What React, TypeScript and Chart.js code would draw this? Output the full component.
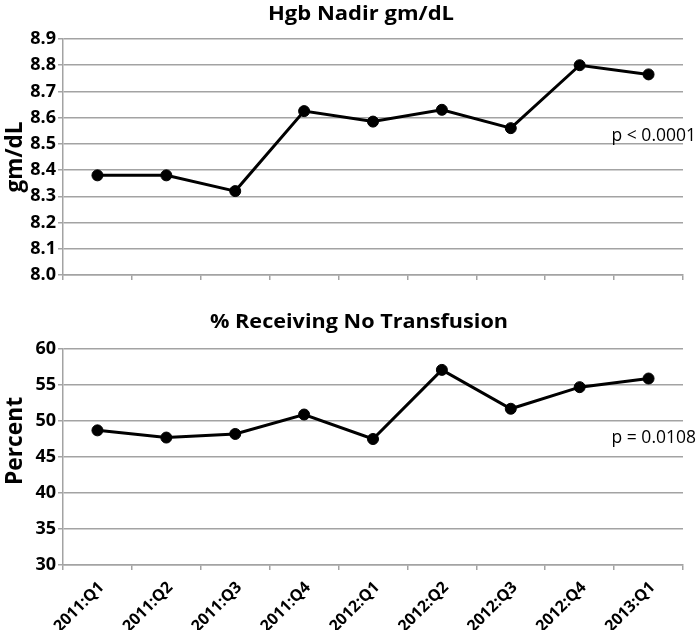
import { useEffect, useRef } from "react";
import { Chart, registerables } from "chart.js";

Chart.register(...registerables);

const categories = ["2011:Q1", "2011:Q2", "2011:Q3", "2011:Q4", "2012:Q1", "2012:Q2", "2012:Q3", "2012:Q4", "2013:Q1"];
const hgbNadir = [8.38, 8.38, 8.32, 8.625, 8.585, 8.63, 8.56, 8.8, 8.765];
const noTransfusionPct = [48.7, 47.7, 48.2, 50.9, 47.5, 57.1, 51.7, 54.7, 55.9];
const hgbTicks = [8.0, 8.1, 8.2, 8.3, 8.4, 8.5, 8.6, 8.7, 8.8, 8.9];
const pctTicks = [30, 35, 40, 45, 50, 55, 60];

const FONT = "'Open Sans', 'DejaVu Sans', sans-serif";
const GRID = "#a3a3a3";

// draws text centred at (cx, baseline) stretched along its direction to a target length
function drawFitted(ctx: CanvasRenderingContext2D, text: string, cx: number, cy: number, length: number, rotate: boolean) {
  const w = ctx.measureText(text).width;
  const sx = length / w;
  ctx.save();
  ctx.translate(cx, cy);
  if (rotate) ctx.rotate(-Math.PI / 2);
  ctx.scale(sx, 1);
  ctx.textAlign = "center";
  ctx.fillText(text, 0, 0);
  ctx.restore();
}

const panelPlugin = {
  id: "panelText",
  afterDraw(chart: any, _args: any, opts: any) {
    const { ctx, chartArea, scales } = chart;
    ctx.save();
    ctx.fillStyle = "#000";
    ctx.font = `bold 20px ${FONT}`;
    ctx.textBaseline = "alphabetic";
    drawFitted(ctx, opts.title, opts.titleX, opts.titleBaseline, opts.titleLength, false);
    ctx.font = `bold 23px ${FONT}`;
    ctx.textBaseline = "middle";
    drawFitted(
      ctx,
      opts.yTitle,
      15,
      (chartArea.top + chartArea.bottom) / 2 + opts.yTitleShift,
      opts.yTitleLength,
      true
    );
    ctx.font = `17.5px ${FONT}`;
    ctx.textBaseline = "alphabetic";
    ctx.textAlign = "right";
    ctx.fillText(opts.pText, chartArea.right + 13, scales.y.getPixelForValue(opts.pValue));
    ctx.restore();
  },
};

function makeConfig(opts: {
  data: number[];
  ticks: number[];
  yTitle: string;
  yTitleLength: number;
  yTitleShift: number;
  showX: boolean;
  xHeight: number;
  topPad: number;
  title: string;
  titleX: number;
  titleLength: number;
  titleBaseline: number;
  pText: string;
  pValue: number;
  decimals: number;
}): any {
  return {
    type: "line",
    data: {
      labels: categories,
      datasets: [
        {
          data: opts.data,
          borderColor: "#000",
          backgroundColor: "#000",
          borderWidth: 3,
          pointRadius: 5.5,
          pointBorderWidth: 1,
          pointBackgroundColor: "#000",
          pointBorderColor: "#000",
          tension: 0,
        },
      ],
    },
    options: {
      responsive: false,
      animation: false,
      devicePixelRatio: 1,
      layout: { padding: { top: opts.topPad, right: 17, left: 0, bottom: 0 } },
      plugins: {
        legend: { display: false },
        tooltip: { enabled: false },
        title: { display: false },
        panelText: {
          title: opts.title,
          titleX: opts.titleX,
          titleLength: opts.titleLength,
          titleBaseline: opts.titleBaseline,
          yTitle: opts.yTitle,
          yTitleLength: opts.yTitleLength,
          yTitleShift: opts.yTitleShift,
          pText: opts.pText,
          pValue: opts.pValue,
        },
      },
      scales: {
        x: {
          type: "category",
          offset: true,
          grid: { display: true, drawOnChartArea: false, offset: true, color: GRID, lineWidth: 1.5, tickLength: 5 },
          border: { display: true, color: GRID, width: 1.5 },
          ticks: {
            display: opts.showX,
            autoSkip: false,
            maxRotation: 45,
            minRotation: 45,
            padding: 8,
            labelOffset: 4,
            color: "#000",
            font: { family: FONT, size: 16, weight: "bold" },
          },
          afterFit: (s: any) => {
            s.height = opts.xHeight;
          },
        },
        y: {
          min: opts.ticks[0],
          max: opts.ticks[opts.ticks.length - 1],
          afterBuildTicks: (s: any) => {
            s.ticks = opts.ticks.map((v) => ({ value: v }));
          },
          afterFit: (s: any) => {
            s.width = 63;
          },
          grid: { color: GRID, lineWidth: 1.5, tickLength: 5 },
          border: { display: true, color: GRID, width: 1.5 },
          ticks: {
            padding: 2,
            color: "#000",
            font: { family: FONT, size: 18, weight: "bold" },
            callback: (v: any) => Number(v).toFixed(opts.decimals),
          },
          title: { display: false },
        },
      },
    },
    plugins: [panelPlugin],
  };
}

export default function App() {
  const topRef = useRef<HTMLCanvasElement>(null);
  const botRef = useRef<HTMLCanvasElement>(null);

  useEffect(() => {
    const top = new Chart(
      topRef.current!,
      makeConfig({
        data: hgbNadir,
        ticks: hgbTicks,
        yTitle: "gm/dL",
        yTitleLength: 71,
        yTitleShift: 0,
        showX: false,
        xHeight: 25,
        topPad: 39,
        title: "Hgb Nadir gm/dL",
        titleX: 361,
        titleLength: 186,
        titleBaseline: 20,
        pText: "p < 0.0001",
        pValue: 8.51,
        decimals: 1,
      })
    );
    const bot = new Chart(
      botRef.current!,
      makeConfig({
        data: noTransfusionPct,
        ticks: pctTicks,
        yTitle: "Percent",
        yTitleLength: 88,
        yTitleShift: -16,
        showX: true,
        xHeight: 65,
        topPad: 49,
        title: "% Receiving No Transfusion",
        titleX: 359,
        titleLength: 298,
        titleBaseline: 28,
        pText: "p = 0.0108",
        pValue: 47.0,
        decimals: 0,
      })
    );
    return () => {
      top.destroy();
      bot.destroy();
    };
  }, []);

  return (
    <div style={{ position: "absolute", left: 0, top: 0, width: 700, height: 630, background: "#fff" }}>
      <canvas ref={topRef} width={700} height={300} style={{ display: "block" }} />
      <canvas ref={botRef} width={700} height={330} style={{ display: "block" }} />
    </div>
  );
}
